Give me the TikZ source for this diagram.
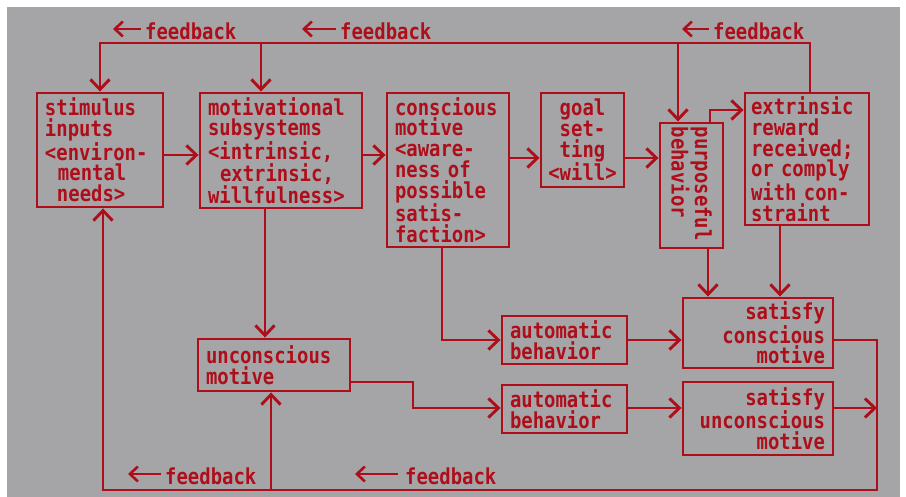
\documentclass[tikz,border=0pt]{standalone}
\usepackage{fontspec}
\newfontfamily\pixfont[FakeStretch=0.86]{DejaVu Sans Mono}
\usetikzlibrary{arrows.meta}
\definecolor{dred}{RGB}{174,14,26}
\definecolor{bggray}{RGB}{165,165,167}
\newcommand{\boxfont}{\pixfont\bfseries\fontsize{22}{20.8}\selectfont}
\tikzset{
  box/.style={draw=dred, line width=2.9pt, text=dred, font=\boxfont,
    inner xsep=8pt, inner ysep=0pt},
  emptybox/.style={draw=dred, line width=2.9pt, inner sep=0pt},
  txt/.style={text=dred, font=\boxfont, inner sep=0pt},
  arr/.style={draw=dred, line width=2.9pt, line join=miter,
    -{Straight Barb[length=10pt,width=19pt]}},
  fbarr/.style={draw=dred, line width=2.6pt,
    -{Straight Barb[length=8pt,width=15pt]}},
  fbl/.style={text=dred, font=\boxfont, inner sep=0pt, anchor=west}
}
\begin{document}
\begin{tikzpicture}[x=1pt,y=-1pt]
\useasboundingbox (0,0) rectangle (906,497);
\fill[white] (0,0) rectangle (906,497);
\fill[bggray] (7,7) rectangle (900,497);

% boxes
\node[box, text width=110pt, minimum height=114pt, align=left] (stim) at (100,150)
  {stimulus\\inputs\\<environ-\\\hspace*{13pt}mental\\\hspace*{12pt}needs>};
\node[box, text width=146pt, minimum height=115pt, align=left] (motiv) at (281,150.5)
  {motivational\\subsystems\\<intrinsic,\\\hspace*{12pt}extrinsic,\\willfulness>};
\node[box, text width=106pt, minimum height=154pt, align=left] (consc) at (448,170)
  {conscious\\motive\\<aware-\\ness of\\possible\\satis-\\faction>};
\node[box, inner xsep=4pt, text width=75pt, minimum height=94pt, align=center] (goal) at (582.5,140)
  {goal\\set-\\ting\\<will>};
\node[emptybox, minimum width=63pt, minimum height=125pt] (purp) at (691.5,185.5) {};
\node[txt, rotate=-90, align=left, anchor=west] (purptxt) at ([yshift=-5pt]purp.north)
  {purposeful\\behavior};
\node[box, inner xsep=6pt, text width=112pt, minimum height=132pt, align=left] (extr) at (807,159)
  {extrinsic\\reward\\received;\\or comply\\with con-\\straint};
\node[box, text width=134pt, minimum height=70pt, align=right] (satc) at (758,333)
  {satisfy\\conscious\\motive};
\node[box, text width=134pt, minimum height=73pt, align=right] (satu) at (758,418.5)
  {satisfy\\unconscious\\motive};
\node[box, text width=109pt, minimum height=48pt, align=left] (auto1) at (564.5,340)
  {automatic\\behavior};
\node[box, text width=109pt, minimum height=48pt, align=left] (auto2) at (564.5,409)
  {automatic\\behavior};
\node[box, text width=136pt, minimum height=52pt, align=left] (uncon) at (274,365)
  {unconscious\\motive};

% helper coordinates
\coordinate (tL) at (100,43);
\coordinate (tM) at (261,43);
\coordinate (tP) at (678,43);
\coordinate (tR) at (810,43);
\coordinate (r1) at (0,155);
\coordinate (r2) at (0,158);
\coordinate (pe) at (710,110);
\coordinate (ps) at (708,0);
\coordinate (es) at (780,0);
\coordinate (ca) at (442,340);
\coordinate (mu) at (265,0);
\coordinate (ua) at (413,382);
\coordinate (ub) at (413,408);
\coordinate (sr) at (877,340);
\coordinate (br) at (877,490);
\coordinate (bl) at (103,490);
\coordinate (bm) at (271,490);

% top feedback
\draw[arr] (extr.north -| tR) -- (tR) -- (tL) -- (stim.north);
\draw[arr] (tM) -- (tM |- motiv.north);
\draw[arr] (tP) -- (tP |- purp.north);

% main flow
\draw[arr] (stim.east |- r1) -- (motiv.west |- r1);
\draw[arr] (motiv.east |- r1) -- (consc.west |- r1);
\draw[arr] (consc.east |- r2) -- (goal.west |- r2);
\draw[arr] (goal.east |- r2) -- (purp.west |- r2);
\draw[arr] (purp.north -| pe) -- (pe) -- (extr.west |- pe);
\draw[arr] (purp.south -| ps) -- (satc.north -| ps);
\draw[arr] (extr.south -| es) -- (satc.north -| es);
\draw[arr] (consc.south -| ca) -- (ca) -- (auto1.west |- ca);
\draw[arr] (auto1.east |- ca) -- (satc.west |- ca);
\draw[arr] (motiv.south -| mu) -- (uncon.north -| mu);
\draw[arr] (uncon.east |- ua) -- (ua) -- (ub) -- (auto2.west |- ub);
\draw[arr] (auto2.east |- ub) -- (satu.west |- ub);

% bottom feedback
\draw[arr] (satc.east |- sr) -- (sr) -- (br) -- (bl) -- (stim.south -| bl);
\draw[arr] (bm) -- (uncon.south -| bm);
\draw[arr] (satu.east |- ub) -- (ub -| br);

% feedback labels
\node[fbl] (fb1) at (145,31) {feedback};
\node[fbl] (fb2) at (340,31) {feedback};
\node[fbl] (fb3) at (713,31) {feedback};
\node[fbl] (fb4) at (165,476) {feedback};
\node[fbl] (fb5) at (405,476) {feedback};
\draw[fbarr] ([xshift=-4pt,yshift=2pt]fb1.west) -- ++(-28,0);
\draw[fbarr] ([xshift=-4pt,yshift=2pt]fb2.west) -- ++(-34,0);
\draw[fbarr] ([xshift=-4pt,yshift=2pt]fb3.west) -- ++(-27,0);
\draw[fbarr] ([xshift=-4pt,yshift=2pt]fb4.west) -- ++(-33,0);
\draw[fbarr] ([xshift=-7pt,yshift=2pt]fb5.west) -- ++(-43,0);
\end{tikzpicture}
\end{document}
